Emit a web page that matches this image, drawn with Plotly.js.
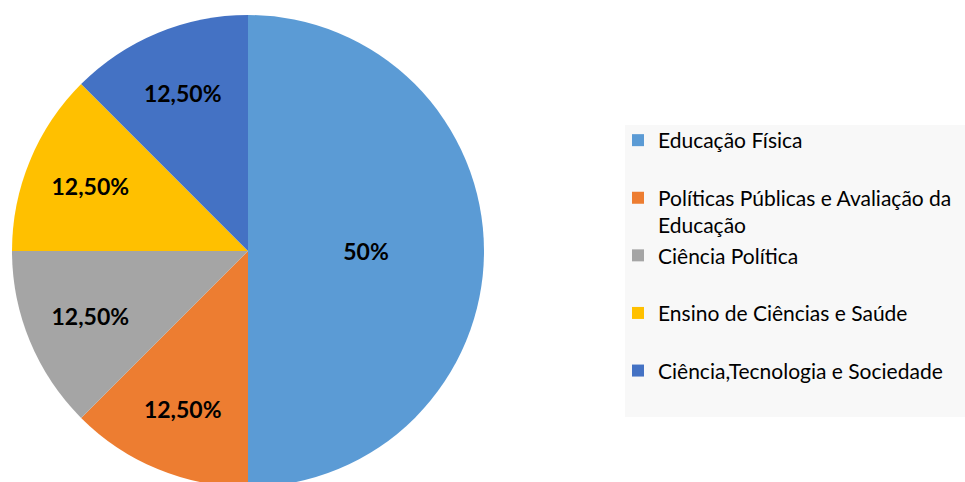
<!DOCTYPE html>
<html>
<head>
<meta charset="utf-8">
<script src="https://cdn.plot.ly/plotly-3.0.1.min.js"></script>
<style>
html,body{margin:0;padding:0;overflow:hidden;background:#fff;}
#chart{width:965px;height:492px;}
</style>
</head>
<body>
<div id="chart"></div>
<script>
const categories = [
  "Educação Física",
  "Políticas Públicas e Avaliação da<br>Educação",
  "Ciência Política",
  "Ensino de Ciências e Saúde",
  "Ciência,Tecnologia e Sociedade"
];
const values = [50, 12.5, 12.5, 12.5, 12.5];
const valueLabels = ["50%", "12,50%", "12,50%", "12,50%", "12,50%"];
const colors = ["#5B9BD5", "#ED7D31", "#A5A5A5", "#FFC000", "#4472C4"];

const W = 965, H = 492;
const trace = {
  type: "pie",
  labels: categories.map(c => c.indexOf("<br>") >= 0 ? c : c + "<br> "),
  values: values,
  text: valueLabels,
  textinfo: "text",
  textposition: "inside",
  insidetextorientation: "horizontal",
  textfont: {family: "Lato, 'Liberation Sans', sans-serif", size: 23, color: "#000", weight: "bold"},
  marker: {colors: colors, line: {width: 0}},
  sort: false,
  direction: "clockwise",
  rotation: 0,
  hoverinfo: "label+percent",
  domain: {x: [12 / W, 484 / W], y: [(H - 487) / H, (H - 15) / H]}
};

const layout = {
  width: W, height: H,
  margin: {l: 0, r: 0, t: 0, b: 0},
  paper_bgcolor: "#ffffff",
  showlegend: true,
  legend: {
    x: 618 / W, xanchor: "left",
    y: (H - 120) / H, yanchor: "top",
    bgcolor: "rgba(0,0,0,0)",
    valign: "top",
    font: {family: "Lato, 'Open Sans', sans-serif", size: 21, color: "#000"},
    traceorder: "normal"
  },
  shapes: [{
    type: "rect", xref: "paper", yref: "paper", layer: "below",
    x0: 625 / W, x1: 1, y0: (H - 417) / H, y1: (H - 125) / H,
    fillcolor: "#F8F8F8", line: {width: 0}
  }]
};

Plotly.newPlot("chart", [trace], layout, {displayModeBar: false, staticPlot: true});
</script>
</body>
</html>
